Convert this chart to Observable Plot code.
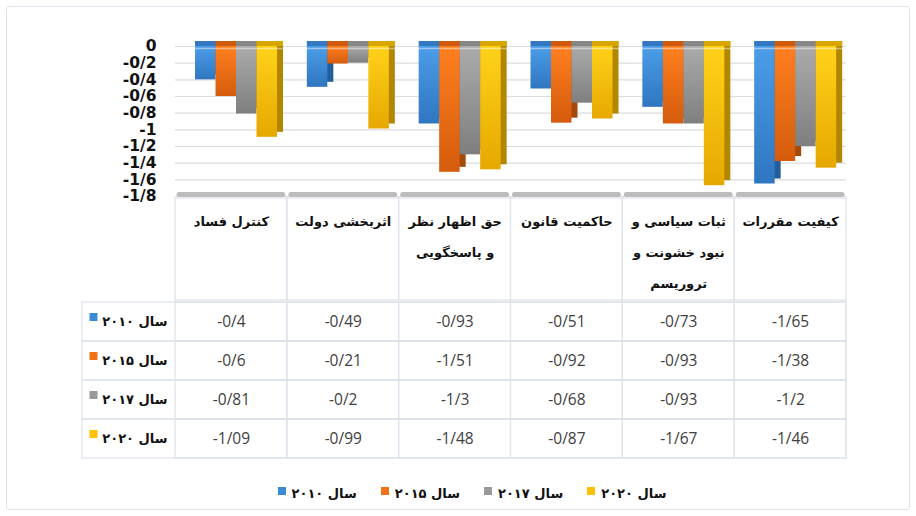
<!DOCTYPE html>
<html><head><meta charset="utf-8">
<script src="https://cdn.jsdelivr.net/npm/d3@7"></script>
<script src="https://cdn.jsdelivr.net/npm/@observablehq/plot@0.6"></script>
<style>
body{margin:0;background:#fff;width:916px;height:516px;overflow:hidden;position:relative;}
#frame{position:absolute;left:6px;top:6px;width:904px;height:504px;border:1.5px solid #dfe5ec;border-radius:3px;box-sizing:border-box}
.layer{position:absolute;left:0}
#legend{position:absolute;top:486px;left:14px;width:916px;display:flex;justify-content:center;gap:24px;direction:ltr;font-family:"DejaVu Sans",sans-serif;font-weight:bold;font-size:13px;color:#111}
#legend .item{display:flex;align-items:center;gap:6px}
#legend .sw{width:8px;height:8px;display:inline-block;margin-top:-6px}
</style></head><body>
<div id="frame"></div>
<div id="chart" class="layer" style="top:0"></div>
<div id="head" class="layer" style="top:197px"></div>
<div id="table" class="layer" style="top:301px"></div>
<div id="legend"></div>
<svg width="0" height="0" style="position:absolute"><defs id="grads"></defs></svg>
<script>
const categories = ["کنترل فساد", "اثربخشی دولت", "حق اظهار نظر\nو پاسخگویی", "حاکمیت قانون", "ثبات سیاسی و\nنبود خشونت و\nتروریسم", "کیفیت مقررات"];
const years = ["سال ۲۰۱۰", "سال ۲۰۱۵", "سال ۲۰۱۷", "سال ۲۰۲۰"];
const v2010 = [-0.4, -0.49, -0.93, -0.51, -0.73, -1.65];
const v2015 = [-0.6, -0.21, -1.51, -0.92, -0.93, -1.38];
const v2017 = [-0.81, -0.2, -1.3, -0.68, -0.93, -1.2];
const v2020 = [-1.09, -0.99, -1.48, -0.87, -1.67, -1.46];
const yTicks = [0, -0.2, -0.4, -0.6, -0.8, -1, -1.2, -1.4, -1.6, -1.8];
const yDomain = [-1.8, 0];

const series = [v2010, v2015, v2017, v2020];
const swatch = ["#3b8ad6", "#ef7316", "#999999", "#ffc000"];
const topCol = ["#4c9de8", "#ff7f1f", "#ababab", "#ffd21a"];
const botCol = ["#2f76c0", "#d55c0d", "#7f7f7f", "#e6a800"];
const sideCol = ["#245e9a", "#a44a08", "#6d6d6d", "#b38600"];
const capCol = ["#3478c2", "#cf5a0c", "#868686", "#d9a500"];

document.getElementById("grads").innerHTML = swatch.map((c, i) =>
  `<linearGradient id="g${i}" x1="0" y1="0" x2="0" y2="1"><stop offset="0" stop-color="${topCol[i]}"/><stop offset="1" stop-color="${botCol[i]}"/></linearGradient>`).join("");

const rows = series.flatMap((vals, s) => vals.map((value, j) => ({cat: categories[j], year: years[s], s, value})));
const fmt = d => String(d).replace(".", "/");

const W = 916, ML = 175, MR = 70;
const bw = (W - ML - MR) / categories.length;
const lead = 20, barW = 20.5, depth = 6;
const ins = i => ({insetLeft: lead + i * barW, insetRight: bw - lead - (i + 1) * barW});
const capIns = i => ({insetLeft: lead + i * barW, insetRight: bw - lead - (i + 1) * barW - depth});

const sideMarks = series.map((_, i) => Plot.rectY(rows.filter(d => d.s === i), {x: "cat", y: "value", fill: sideCol[i], dx: depth, dy: -5, ...ins(i)}));
const frontMarks = series.map((_, i) => Plot.rectY(rows.filter(d => d.s === i), {x: "cat", y: "value", fill: `url(#g${i})`, ...ins(i)}));
const capMarks = series.map((_, i) => Plot.rectY(rows.filter(d => d.s === i), {x: "cat", y1: yDomain[1], y2: yDomain[1], fill: capCol[i], insetTop: -5, ...capIns(i)}));

const chart = Plot.plot({
  width: W, height: 210, marginLeft: ML, marginRight: MR, marginTop: 46, marginBottom: 14,
  style: {fontFamily: "'DejaVu Sans', sans-serif", fontSize: "15.5px", fontWeight: "bold", color: "#111", background: "transparent", overflow: "visible"},
  x: {domain: categories, padding: 0, round: false, axis: null},
  y: {domain: yDomain, ticks: yTicks, tickFormat: fmt, tickSize: 0, tickPadding: 19, label: null},
  marks: [
    Plot.ruleY(yTicks, {stroke: "#dcdcdc", strokeWidth: 1.2}),
    Plot.tickY(categories, {x: d => d, y: yDomain[0], stroke: "#bcbcbc", strokeWidth: 5, strokeLinecap: "round", insetLeft: 4, insetRight: 4, dy: -2}),
    ...sideMarks,
    ...frontMarks,
    ...capMarks,
    Plot.ruleY([yDomain[1]], {stroke: "#ffffff", strokeOpacity: 0.45, strokeWidth: 1.5, dy: 2})
  ]
});
document.getElementById("chart").append(chart);

const head = Plot.plot({
  width: W, height: 104, marginLeft: ML, marginRight: MR, marginTop: 1, marginBottom: 1,
  style: {fontFamily: "'DejaVu Sans', sans-serif", fontSize: "13px", fontWeight: "bold", color: "#111", background: "transparent"},
  x: {domain: categories, padding: 0, round: false, axis: null},
  marks: [
    Plot.cell(categories, {x: d => d, stroke: "#dde3ea", fill: "none", strokeWidth: 1.2}),
    Plot.text(categories, {x: d => d, text: d => d, frameAnchor: "top", lineAnchor: "top", dy: 5, lineHeight: 2.4, textAnchor: "middle", fill: "#111"})
  ]
});
document.getElementById("head").append(head);

const table = Plot.plot({
  width: W, height: 158, marginLeft: ML, marginRight: MR, marginTop: 1, marginBottom: 1,
  style: {fontFamily: "'Open Sans', sans-serif", fontSize: "15.5px", color: "#404040", background: "transparent"},
  x: {domain: categories, padding: 0, round: false, axis: null},
  y: {domain: years, padding: 0, round: false, axis: null},
  marks: [
    Plot.cell(years, {y: d => d, stroke: "#dde3ea", fill: "none", strokeWidth: 1.2, insetLeft: -93}),
    Plot.cell(rows, {x: "cat", y: "year", stroke: "#dde3ea", fill: "none", strokeWidth: 1.2}),
    Plot.text(rows, {x: "cat", y: "year", text: d => fmt(d.value), fill: "#404040"}),
    Plot.text(years, {y: d => d, text: d => d, frameAnchor: "left", textAnchor: "end", dx: -8, fontFamily: "'DejaVu Sans', sans-serif", fontWeight: "bold", fontSize: 13, fill: "#111"}),
    Plot.dot(years, {y: d => d, frameAnchor: "left", dx: -82, dy: -5, symbol: "square", r: 4.5, fill: (d, i) => swatch[i], stroke: null})
  ]
});
document.getElementById("table").append(table);

document.getElementById("legend").innerHTML = years.map((y, i) =>
  `<span class="item"><span class="sw" style="background:${swatch[i]}"></span><span>${y}</span></span>`).join("");
</script>
</body></html>
